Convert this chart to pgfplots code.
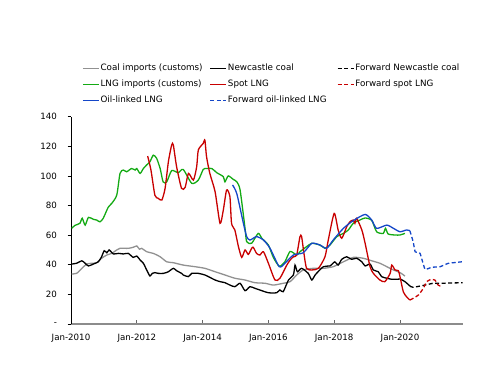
\documentclass[border=0pt]{standalone}
\usepackage{fontspec}
\setmainfont{DejaVu Sans}
\usepackage{pgfplots}
\pgfplotsset{compat=1.18}
\definecolor{cgray}{RGB}{145,145,145}
\definecolor{cgreen}{RGB}{20,170,20}
\definecolor{cred}{RGB}{200,0,0}
\definecolor{cblue}{RGB}{20,70,200}
\newcommand{\lt}[1]{\makebox[105bp][l]{#1}}
\begin{document}
\begin{tikzpicture}
\useasboundingbox (-71bp,-62bp) rectangle (429bp,324bp);
\begin{axis}[
  scale only axis, width=391.7bp, height=207.3bp,
  xmin=2010, xmax=2021.906, ymin=0, ymax=140,
  axis lines*=left,
  x axis line style={draw=black!45, line width=1.3bp},
  y axis line style={draw=black, line width=0.8bp},
  xtick={2010,2012,2014,2016,2018,2020},
  xticklabels={Jan-2010,Jan-2012,Jan-2014,Jan-2016,Jan-2018,Jan-2020},
  ytick={0,20,40,60,80,100,120,140},
  yticklabels={-,20,40,60,80,100,120,140},
  tick align=outside,
  major tick length=3.5bp,
  x tick style={black!60, line width=0.8bp, yshift=3.5bp},
  y tick style={black, line width=0.6bp},
  /pgf/number format/assume math mode=true,
  tick label style={font=\fontsize{8.7}{10}\selectfont},
  yticklabel style={xshift=-7bp},
  xticklabel style={yshift=-3bp},
  every axis plot/.append style={line width=1.3bp, smooth, tension=0.4},
  legend columns=3,
  legend cell align=left,
  legend image code/.code={\draw[#1, line width=1.4bp] (0bp,0bp) -- (16bp,0bp);},
  legend style={at={(0.028,1.258)}, anchor=north west, draw=none, fill=none,
    font=\fontsize{8.8}{10}\selectfont, inner sep=0pt, row sep=5.5bp,
    nodes={inner sep=1bp, text height=6.5bp, text depth=2bp},
    /tikz/every even column/.append style={column sep=3bp}},
]
% Coal imports (customs)
\addplot[cgray] coordinates {
(2010.02,33.8)(2010.17,34.2)(2010.33,37.6)(2010.48,40.5)(2010.63,41)(2010.78,41.4)
(2010.93,44.4)(2011.09,46.6)(2011.24,47.7)(2011.39,50)(2011.49,51.1)(2011.74,51.1)
(2011.89,51.8)(2012.00,52.7)(2012.08,50.5)(2012.15,51.1)(2012.30,48.8)(2012.50,47.7)
(2012.71,45.4)(2012.91,42)(2013.11,41.4)(2013.41,39.8)(2013.77,38.7)(2014.07,37.6)
(2014.38,35.3)(2014.68,33.1)(2014.98,30.9)(2015.29,29.7)(2015.59,27.9)(2015.90,27.5)
(2016.15,26.3)(2016.45,27.5)(2016.66,28.6)(2016.86,33.1)(2017.06,36.5)(2017.36,37.6)
(2017.67,37.6)(2017.97,38.7)(2018.28,42)(2018.58,45)(2018.88,44.4)(2019.14,42.7)
(2019.39,41)(2019.60,38.7)(2019.80,36.5)(2020.00,34.7)(2020.15,32.4)};
\addlegendentry{\lt{Coal imports (customs)}}
% Newcastle coal
\addplot[black] coordinates {
(2010.02,40.5)(2010.17,41)(2010.33,42.7)(2010.43,41)(2010.53,39.2)(2010.68,40.5)
(2010.83,42)(2010.93,45.4)(2011.01,49.5)(2011.09,48.1)(2011.16,50)(2011.29,47.3)
(2011.44,47.7)(2011.59,47.3)(2011.74,47.7)(2011.89,45)(2012.00,45.9)(2012.10,43.2)
(2012.20,41)(2012.30,36.5)(2012.40,32.4)(2012.47,34.2)(2012.55,34.7)(2012.65,34.2)
(2012.81,34.2)(2012.96,35.3)(2013.11,37.6)(2013.21,36)(2013.36,34.2)(2013.41,33.1)
(2013.57,32)(2013.67,34.2)(2013.87,34.2)(2014.07,33.1)(2014.22,31.5)(2014.38,29.7)
(2014.53,28.6)(2014.68,27.9)(2014.83,26.3)(2014.98,25.2)(2015.14,27.5)(2015.29,22.5)
(2015.44,25.2)(2015.59,24.1)(2015.80,22.5)(2016.00,21.1)(2016.25,21.1)(2016.35,23)
(2016.45,21.8)(2016.61,29.7)(2016.76,33.1)(2016.81,39.8)(2016.88,35.3)(2017.01,37.6)
(2017.21,34.2)(2017.32,29.7)(2017.42,33.1)(2017.67,38.7)(2017.87,39.2)(2018.02,42)
(2018.12,39.8)(2018.23,43.7)(2018.38,45.4)(2018.53,43.7)(2018.68,44.4)(2018.84,42)
(2018.94,39.2)(2019.09,40.5)(2019.19,36.5)(2019.34,35.3)(2019.44,32)(2019.60,30.9)
(2019.75,30.2)(2019.90,30.2)(2020.00,30.4)(2020.15,28.6)(2020.30,25.7)};
\addlegendentry{\lt{Newcastle coal}}
% Forward Newcastle coal
\addplot[black, dash pattern=on 4bp off 2.5bp] coordinates {
(2020.30,25.7)(2020.40,24.8)(2020.76,26.3)(2021.01,27.5)(2021.22,27.5)(2021.92,27.9)};
\addlegendentry{\lt{Forward Newcastle coal}}
% LNG imports (customs)
\addplot[cgreen] coordinates {
(2010.02,64.6)(2010.12,66.6)(2010.27,68)(2010.34,71.4)(2010.43,66.8)(2010.53,72)
(2010.68,70.7)(2010.78,70.2)(2010.88,69)(2010.98,71.4)(2011.13,78.8)(2011.24,81.5)
(2011.39,87)(2011.49,101.7)(2011.59,104)(2011.69,102.8)(2011.84,105)(2011.95,104)
(2012.00,105)(2012.10,101.7)(2012.20,105)(2012.30,107.4)(2012.40,109.6)(2012.50,114)
(2012.60,112)(2012.71,105)(2012.80,96)(2012.91,96)(2013.06,103.6)(2013.26,102.2)
(2013.41,104.4)(2013.67,95)(2013.87,97.2)(2014.02,104.4)(2014.12,105)(2014.28,105)
(2014.43,102.2)(2014.63,99.5)(2014.68,96)(2014.78,100)(2014.93,97.7)(2015.04,96)
(2015.14,90.5)(2015.29,64.6)(2015.34,55.6)(2015.49,54.5)(2015.69,61.2)(2015.80,57.9)
(2016.00,53.3)(2016.15,45)(2016.33,39)(2016.50,42)(2016.66,49)(2016.86,46.6)
(2016.96,48.8)(2017.16,52.2)(2017.32,54.5)(2017.57,53.3)(2017.72,51.1)(2017.87,53.3)
(2018.08,59)(2018.28,61.2)(2018.43,63.5)(2018.58,68)(2018.78,70.2)(2018.94,71.6)
(2019.14,70)(2019.29,62.3)(2019.49,61.2)(2019.56,64.6)(2019.64,60.8)(2019.85,60.1)
(2020.00,60.1)(2020.15,61.2)};
\addlegendentry{\lt{LNG imports (customs)}}
% Spot LNG
\addplot[cred] coordinates {
(2012.33,113.4)(2012.43,104)(2012.55,87)(2012.65,84.9)(2012.76,83.7)(2012.86,91.6)
(2012.96,109.6)(2013.06,120.9)(2013.11,120.9)(2013.21,106.2)(2013.36,91.6)(2013.47,92.3)
(2013.57,101.7)(2013.72,97.2)(2013.82,106.2)(2013.87,117.5)(2014.02,122)(2014.07,124.2)
(2014.12,113)(2014.22,101.7)(2014.38,89.3)(2014.53,68)(2014.63,77)(2014.73,90.5)
(2014.83,86)(2014.88,68)(2014.98,63.5)(2015.09,52.2)(2015.19,45)(2015.29,50)
(2015.39,47)(2015.49,51.1)(2015.54,51.8)(2015.64,47.7)(2015.74,46.6)(2015.85,48.8)
(2016.00,41)(2016.20,29.7)(2016.35,30.9)(2016.56,39.8)(2016.66,43.2)(2016.76,45.4)
(2016.86,46.6)(2016.96,59)(2017.01,59)(2017.08,47.7)(2017.16,37.6)(2017.32,36.5)
(2017.52,37.6)(2017.72,45.4)(2017.82,56.7)(2018.00,74.7)(2018.12,63.5)(2018.23,57.9)
(2018.38,65.7)(2018.48,69.1)(2018.58,70.2)(2018.63,68)(2018.68,71.4)(2018.84,63.5)
(2018.94,54.5)(2019.09,38.7)(2019.19,34.2)(2019.39,29.7)(2019.54,28.6)(2019.70,34.2)
(2019.75,39.8)(2019.85,36.5)(2019.95,36)(2020.00,32)(2020.10,21.8)(2020.20,18.4)
(2020.30,16.2)};
\addlegendentry{\lt{Spot LNG}}
% Forward spot LNG
\addplot[cred, dash pattern=on 4bp off 2.5bp] coordinates {
(2020.30,16.2)(2020.40,17.3)(2020.56,19.6)(2020.71,24.1)(2020.81,28.6)(2020.96,30.2)
(2021.06,29.7)(2021.16,26.3)(2021.27,25.2)};
\addlegendentry{\lt{Forward spot LNG}}
% Oil-linked LNG
\addplot[cblue] coordinates {
(2014.91,93.9)(2015.04,88)(2015.24,68)(2015.34,59)(2015.44,56.7)(2015.64,59)
(2015.85,56.7)(2016.05,51.1)(2016.33,38.7)(2016.50,41)(2016.76,46.6)(2017.06,48.1)
(2017.32,54.5)(2017.57,53.3)(2017.77,51.1)(2017.97,56.7)(2018.28,64.6)(2018.58,69.8)
(2018.94,74)(2019.14,70.2)(2019.29,64.6)(2019.60,66.8)(2019.80,64.6)(2020.00,62.3)
(2020.20,63.5)(2020.30,63)};
\addlegendentry{\lt{Oil-linked LNG}}
% Forward oil-linked LNG
\addplot[cblue, dash pattern=on 4bp off 2.5bp, tension=0.15] coordinates {
(2020.30,63)(2020.40,55.6)(2020.46,48.8)(2020.61,47.7)(2020.76,36.9)(2020.96,38.3)
(2021.22,38.7)(2021.47,41)(2021.88,42)};
\addlegendentry{\lt{Forward oil-linked LNG}}
\end{axis}
\end{tikzpicture}
\end{document}
